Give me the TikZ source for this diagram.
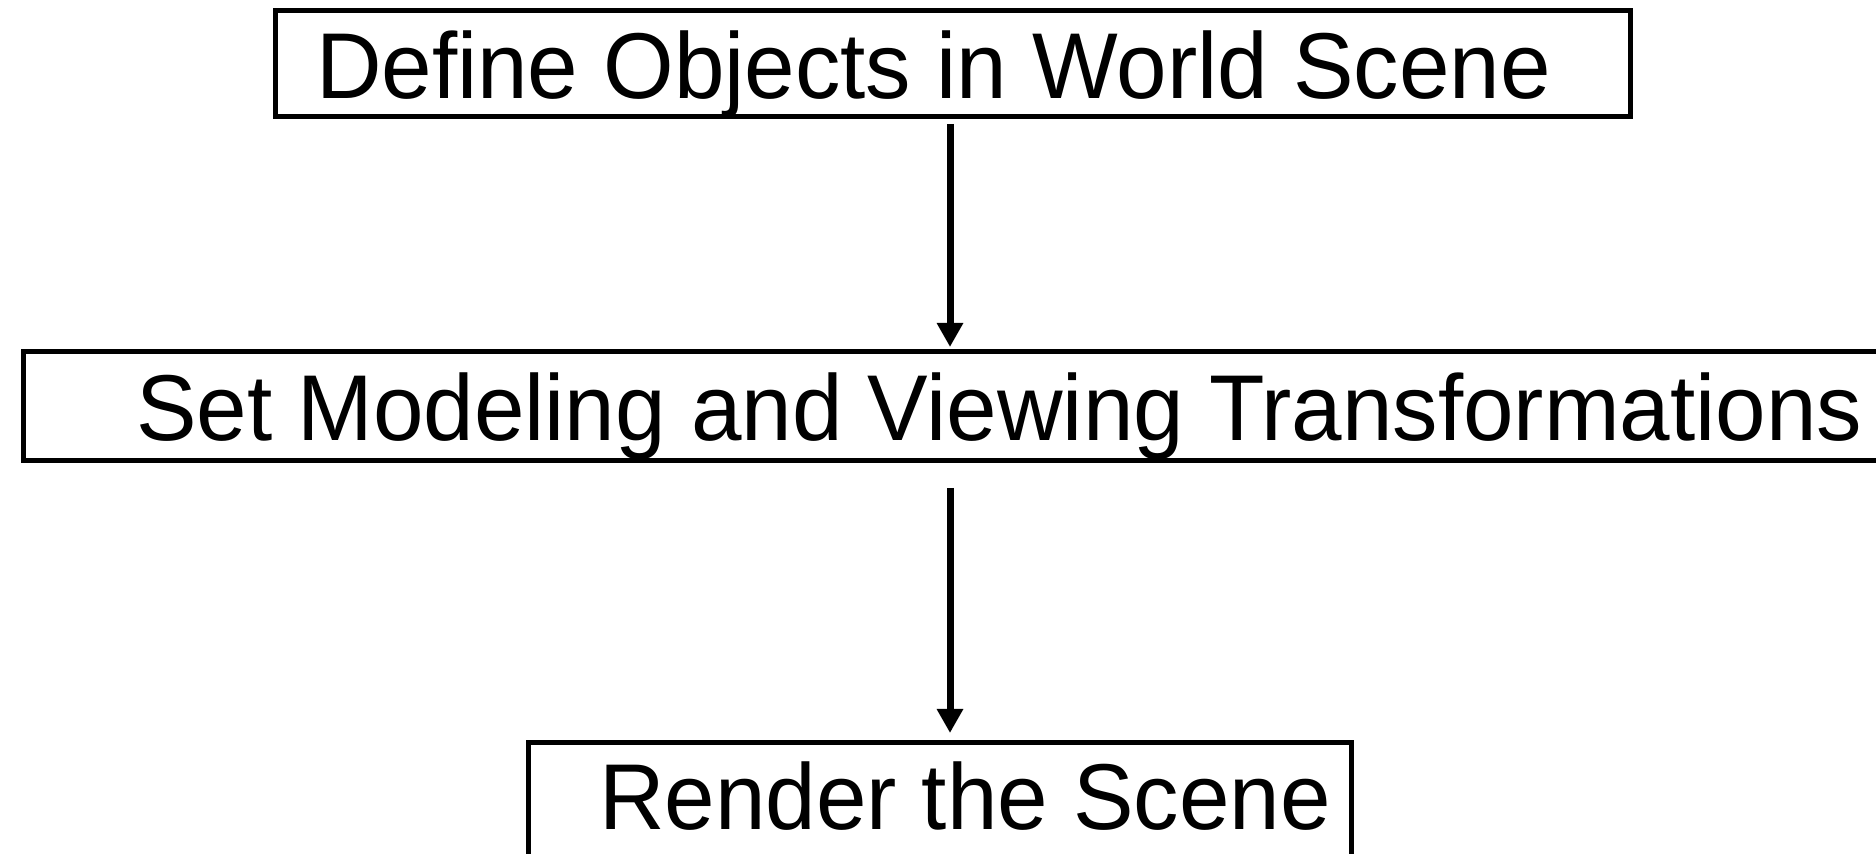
\documentclass[tikz,border=0pt]{standalone}
\usepackage{fontspec}
\setmainfont{Liberation Sans}
\usetikzlibrary{arrows.meta,calc}
\tikzset{
  stagebox/.style={draw=black, line width=2.5pt, rectangle, inner sep=0pt, outer sep=0pt, anchor=north west},
  stagetext/.style={anchor=base west, inner sep=0pt, outer sep=0pt, font=\fontsize{45.4}{54}\selectfont, yscale=1.03},
  flowarrow/.style={line width=3.5pt, -{Triangle[length=12pt,width=12.5pt]}}
}
\begin{document}
\begin{tikzpicture}[x=0.5pt,y=-0.5pt]
\useasboundingbox (0,0) rectangle (1876,854);
\clip (0,0) rectangle (1876,854);
\fill[white] (0,0) rectangle (1876,854);
% boxes
\node[stagebox, minimum width=677.5pt, minimum height=53.25pt] (box1) at (275.5,10.5) {};
\node[stagebox, minimum width=938.25pt, minimum height=54.5pt] (box2) at (23.5,351.5) {};
\node[stagebox, minimum width=411.5pt, minimum height=62.5pt] (box3) at (528.5,742.5) {};
% texts
\node[stagetext] (t1) at (316,99) {Define Objects in World Scene};
\node[stagetext] (t2) at (136,441) {Set Modeling and Viewing Transformations};
\node[stagetext] (t3) at (599,830) {Render the Scene};
% arrow axis
\coordinate (ax) at (950,0);
\draw[flowarrow, shorten <=3.5pt, shorten >=2.25pt] (box1.south -| ax) -- (box2.north -| ax);
\draw[flowarrow, shorten <=13.75pt, shorten >=4.75pt] (box2.south -| ax) -- (box3.north -| ax);
\end{tikzpicture}
\end{document}
